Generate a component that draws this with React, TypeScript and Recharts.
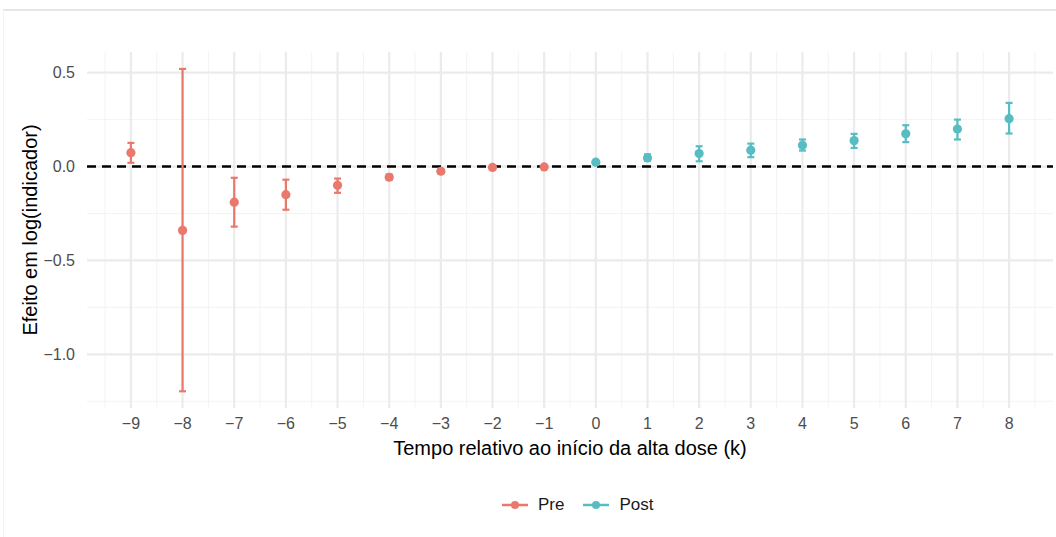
import React from "react";
import {
  ComposedChart,
  Scatter,
  ErrorBar,
  XAxis,
  YAxis,
  CartesianGrid,
  ReferenceLine,
  Legend,
} from "recharts";

// event-study coefficients
const preK = [-9, -8, -7, -6, -5, -4, -3, -2, -1];
const preEst = [0.074, -0.34, -0.19, -0.15, -0.1, -0.057, -0.025, -0.005, -0.002];
const preLo = [0.02, -1.197, -0.32, -0.23, -0.14, -0.07, -0.035, -0.01, -0.006];
const preHi = [0.126, 0.52, -0.06, -0.07, -0.064, -0.042, -0.016, 0.0, 0.002];

const postK = [0, 1, 2, 3, 4, 5, 6, 7, 8];
const postEst = [0.023, 0.046, 0.069, 0.087, 0.113, 0.138, 0.174, 0.2, 0.255];
const postLo = [0.016, 0.03, 0.028, 0.05, 0.085, 0.099, 0.13, 0.144, 0.176];
const postHi = [0.03, 0.065, 0.108, 0.122, 0.144, 0.174, 0.22, 0.25, 0.339];

const xTicks = [-9, -8, -7, -6, -5, -4, -3, -2, -1, 0, 1, 2, 3, 4, 5, 6, 7, 8];
const xMinor = [-9.5, -8.5, -7.5, -6.5, -5.5, -4.5, -3.5, -2.5, -1.5, -0.5, 0.5, 1.5, 2.5, 3.5, 4.5, 5.5, 6.5, 7.5, 8.5];
const yTicks = [0.5, 0, -0.5, -1];
const yMinor = [0.25, -0.25, -0.75, -1.25];

const PRE = "#e9786d";
const POST = "#58bdc2";
const FONT = "'Liberation Sans', Arial, sans-serif";

const build = (k: number[], est: number[], lo: number[], hi: number[]) =>
  k.map((v, i) => ({ k: v, est: est[i], err: [est[i] - lo[i], hi[i] - est[i]] }));

const preData = build(preK, preEst, preLo, preHi);
const postData = build(postK, postEst, postLo, postHi);

const minus = (s: string) => s.replace("-", "\u2212");

const renderLegend = () => {
  const items = [
    { name: "Pre", color: PRE },
    { name: "Post", color: POST },
  ];
  return (
    <div style={{ display: "flex", justifyContent: "flex-start", paddingLeft: 501, paddingTop: 18, fontFamily: FONT, fontSize: 17, color: "#1a1a1a" }}>
      {items.map((it) => (
        <div key={it.name} style={{ display: "flex", alignItems: "center", marginRight: 18 }}>
          <svg width={28} height={14} style={{ marginRight: 9 }}>
            <line x1={1} y1={7} x2={27} y2={7} stroke={it.color} strokeWidth={2.5} />
            <circle cx={14} cy={7} r={4} fill={it.color} />
          </svg>
          <span>{it.name}</span>
        </div>
      ))}
    </div>
  );
};

export default function App() {
  return (
    <div style={{ position: "absolute", left: 0, top: 0, width: 1056, height: 537, background: "#fff" }}>
      <div
        style={{
          position: "absolute",
          left: 3,
          top: 9,
          width: 1053,
          height: 528,
          borderTop: "2px solid #e6e6e6",
          borderLeft: "1px solid #f2f2f2",
          boxSizing: "border-box",
        }}
      />
      <ComposedChart
        width={1056}
        height={537}
        margin={{ top: 52, right: 3, left: 0, bottom: 10 }}
        style={{ position: "absolute", left: 0, top: 0 }}
      >
        <CartesianGrid verticalValues={xMinor} horizontalValues={yMinor} stroke="#f3f3f3" strokeWidth={1} />
        <CartesianGrid verticalValues={xTicks} horizontalValues={yTicks} stroke="#ebebeb" strokeWidth={2.2} />
        <XAxis
          type="number"
          dataKey="k"
          domain={[-9.85, 8.85]}
          ticks={xTicks}
          allowDataOverflow
          axisLine={false}
          tickLine={false}
          height={69}
          tickMargin={4}
          tick={{ fill: "#4d4d4d", fontSize: 16, fontFamily: FONT }}
          tickFormatter={(v: number) => minus(String(v))}
          label={{
            value: "Tempo relativo ao início da alta dose (k)",
            position: "insideBottom",
            offset: 22,
            style: { fill: "#000", fontSize: 20, fontFamily: FONT },
          }}
        />
        <YAxis
          type="number"
          domain={[-1.286, 0.61]}
          ticks={yTicks}
          allowDataOverflow
          axisLine={false}
          tickLine={false}
          width={87}
          tickMargin={6}
          tick={{ fill: "#4d4d4d", fontSize: 16, fontFamily: FONT }}
          tickFormatter={(v: number) => minus(v.toFixed(1))}
          label={{
            value: "Efeito em log(indicador)",
            angle: -90,
            position: "insideLeft",
            offset: 30,
            style: { fill: "#000", fontSize: 20, fontFamily: FONT, textAnchor: "middle" },
          }}
        />
        <ReferenceLine y={0} stroke="#000" strokeWidth={2.6} strokeDasharray="9 6" />
        <Scatter name="Pre" data={preData} dataKey="est" fill={PRE} isAnimationActive={false} shape={(p: any) => <circle cx={p.cx} cy={p.cy} r={4.6} fill={PRE} />}>
          <ErrorBar dataKey="err" direction="y" width={3.5} stroke={PRE} strokeWidth={2.2} />
        </Scatter>
        <Scatter name="Post" data={postData} dataKey="est" fill={POST} isAnimationActive={false} shape={(p: any) => <circle cx={p.cx} cy={p.cy} r={4.6} fill={POST} />}>
          <ErrorBar dataKey="err" direction="y" width={3.5} stroke={POST} strokeWidth={2.2} />
        </Scatter>
        <Legend verticalAlign="bottom" height={50} content={renderLegend} />
      </ComposedChart>
    </div>
  );
}
